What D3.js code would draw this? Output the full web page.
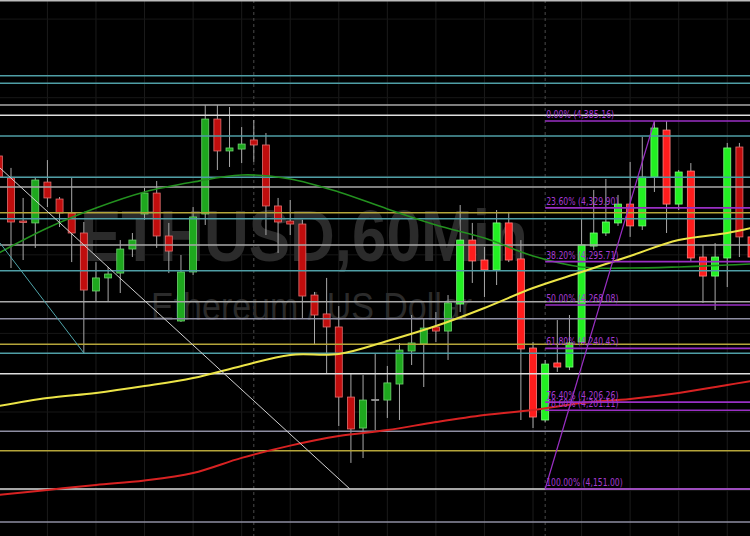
<!DOCTYPE html>
<html><head><meta charset="utf-8">
<script src="https://cdn.jsdelivr.net/npm/d3@7"></script>
<style>html,body{margin:0;padding:0;background:#000;overflow:hidden}</style>
</head><body><svg id="c" width="750" height="536"></svg>
<script>
// ---- data (ETHUSD 60-minute candles) ----
const candleIdx = d3.range(-1, 62);
const opens  = [4362.9,4348.9,4321.5,4320.3,4346.3,4335.5,4326.6,4313.9,4277.0,4285.3,4288.4,4303.7,4326.0,4339.3,4312.0,4257.9,4289.1,4326.0,4386.4,4366.1,4367.3,4373.1,4369.9,4331.1,4321.5,4319.6,4274.4,4262.4,4254.1,4209.5,4189.8,4207.95,4207.6,4217.8,4238.8,4243.3,4254.1,4251.5,4268.7,4309.4,4296.7,4290.4,4320.3,4297.4,4240.7,4194.9,4231.2,4228.6,4244.5,4305.6,4313.9,4320.3,4332.3,4318.4,4349.5,4379.4,4332.3,4353.3,4298.6,4286.5,4298.0,4368.6,4311.4];
const highs  = [4366.7,4355.3,4336.2,4349.5,4360.3,4336.8,4349.5,4320.9,4295.4,4292.3,4309.4,4313.9,4342.5,4347.0,4320.3,4299.9,4330.4,4395.3,4395.3,4394.1,4381.3,4385.8,4377.5,4336.2,4334.9,4322.2,4276.4,4285.3,4267.4,4224.8,4223.5,4236.9,4229.3,4243.9,4261.7,4259.8,4263.6,4274.4,4331.7,4320.3,4305.0,4328.5,4327.3,4309.4,4244.5,4233.1,4258.5,4261.7,4323.4,4341.3,4348.3,4338.1,4359.1,4375.0,4385.16,4385.16,4354.0,4358.4,4306.3,4307.5,4371.2,4371.2,4315.8];
const lows   = [4347.6,4291.6,4296.7,4304.4,4330.4,4317.7,4295.4,4237.5,4270.6,4270.0,4275.7,4298.6,4322.2,4304.4,4288.4,4257.3,4287.2,4319.0,4354.0,4355.9,4358.4,4359.1,4312.6,4301.2,4312.6,4259.8,4242.6,4224.8,4191.1,4167.6,4170.7,4188.5,4196.2,4194.9,4229.9,4215.9,4244.5,4233.1,4263.6,4282.1,4273.2,4280.8,4295.4,4194.9,4189.8,4193.6,4225.5,4226.7,4242.6,4303.1,4312.0,4318.4,4311.4,4315.8,4340.0,4313.9,4328.5,4295.4,4269.4,4264.9,4279.5,4298.6,4295.4];
const closes = [4349.5,4320.9,4320.6,4347.6,4336.2,4326.6,4313.9,4277.6,4285.3,4287.8,4303.7,4309.4,4339.3,4312.0,4302.4,4289.1,4324.1,4386.4,4366.1,4368.0,4370.5,4369.9,4331.1,4320.9,4319.6,4273.8,4261.7,4254.1,4209.5,4189.2,4207.6,4207.95,4218.5,4239.4,4243.9,4253.4,4251.5,4269.4,4309.4,4296.1,4290.4,4320.3,4296.7,4240.1,4196.8,4230.5,4228.6,4243.9,4306.3,4313.9,4320.9,4332.3,4318.4,4349.5,4380.7,4332.3,4352.7,4298.0,4286.5,4298.6,4368.0,4311.4,4298.6];

// moving averages, read at every 4th candle
const maIdx    = [-1,3,7,11,15,19,23,27,31,35,39,43,47,51,55,59,61];
const maGreen  = [4301.2,4317.1,4329.8,4340.0,4346.3,4350.8,4348.3,4340.0,4329.2,4319.0,4310.7,4299.3,4292.3,4291.6,4292.3,4293.5,4294.2];
const maYellow = [4203.8,4208.9,4212.1,4216.5,4221.6,4229.3,4236.3,4236.9,4245.2,4254.7,4266.2,4278.9,4289.1,4299.3,4309.4,4313.9,4317.1];
const maRed    = [4147.2,4150.4,4153.6,4156.4,4161.2,4170.8,4178.6,4184.7,4188.5,4193.6,4198.1,4201.3,4205.7,4208.3,4212.1,4217.2,4219.7];

// horizontal support / resistance levels
const tealLevels   = [4413.98,4409.15,4375.62,4349.34,4322.99,4289.91,4237.35];
const grayLevels   = [4395.34,4343.16,4306.26,4270.18];
const slateLevels  = [4259.36,4187.72,4130.01];
const whiteLevels  = [4388.79,4224.37,4151.00];
const yellowLevels = [4326.81,4243.08,4175.37];

// Fibonacci retracement
const fibPrices = [4385.16,4329.90,4295.71,4268.08,4240.45,4206.26,4201.11,4151.00];
const fibLabels = ["0.00% (4,385.16)","23.60% (4,329.90)","38.20% (4,295.71)","50.00% (4,268.08)","61.80% (4,240.45)","76.40% (4,206.26)","78.60% (4,201.11)","100.00% (4,151.00)"];
const fibStartIdx = 44, fibHighIdx = 53;

// trend lines [idx1, price1, idx2, price2]
const whiteTrend = [-0.906, 4355.25, 27.92, 4151.0];
const tealTrend  = [-0.906, 4307.53, 6, 4237.55];

const daySeparators = [20, 44];
const gridIdx = d3.range(3, 62, 4);
const gridPrices = d3.range(4150, 4451, 50);

// ---- drawing ----
const W = 750, H = 536;
const svg = d3.select("#c");
const x = d3.scaleLinear().domain([0, 60]).range([11, 739.4]);
const y = d3.scaleLinear().domain([4151.0, 4385.16]).range([489, 121]);

svg.append("rect").attr("width", W).attr("height", H).attr("fill", "#000");

// grid
svg.append("g").selectAll("line").data(gridIdx).join("line")
  .attr("x1", d => x(d)).attr("x2", d => x(d)).attr("y1", 0).attr("y2", H)
  .attr("stroke", "#1b1b1b").attr("stroke-width", 1);
svg.append("g").selectAll("line").data(gridPrices).join("line")
  .attr("x1", 0).attr("x2", W).attr("y1", d => y(d)).attr("y2", d => y(d))
  .attr("stroke", "#171717").attr("stroke-width", 1);
svg.append("g").selectAll("line").data(daySeparators).join("line")
  .attr("x1", d => x(d)).attr("x2", d => x(d)).attr("y1", 0).attr("y2", H)
  .attr("stroke", "#4a4a4a").attr("stroke-width", 1).attr("stroke-dasharray", "3,3");

// watermark (horizontally condensed like the source screenshot)
svg.append("text").text("ETHUSD,60Min")
  .attr("transform", "translate(80,261) scale(1,1.18)")
  .attr("font-family", "Liberation Sans, Arial, sans-serif")
  .attr("font-weight", "bold").attr("font-size", 62).attr("fill", "#2b2b2b");
svg.append("text").text("Ethereum / US Dollar")
  .attr("transform", "translate(151,320) scale(1,1.12)")
  .attr("font-family", "Liberation Sans, Arial, sans-serif")
  .attr("font-size", 34).attr("fill", "#2b2b2b");

// candles
const candles = candleIdx.map((i, k) => ({i, o: opens[k], h: highs[k], l: lows[k], c: closes[k]}));
const bw = 7;
function colors(d) {
  if (d.o === d.c) return {fill: "#9a9a9a", stroke: "#9a9a9a"};
  const up = d.c > d.o;
  const bright = d.i >= 37 && d.i !== 60;
  if (up) return bright ? {fill: "#22f022", stroke: "#7dff7d"} : {fill: "#1ea81e", stroke: "#6fd36f"};
  return bright ? {fill: "#ff1c1c", stroke: "#ff8080"} : {fill: "#c00d0d", stroke: "#e07070"};
}
const cg = svg.append("g");
cg.selectAll("line").data(candles).join("line")
  .attr("x1", d => x(d.i)).attr("x2", d => x(d.i))
  .attr("y1", d => y(d.h)).attr("y2", d => y(d.l))
  .attr("stroke", "#a8a8a8").attr("stroke-width", 1);
cg.selectAll("rect").data(candles).join("rect")
  .attr("x", d => x(d.i) - bw / 2)
  .attr("y", d => y(Math.max(d.o, d.c)))
  .attr("width", bw)
  .attr("height", d => Math.max(1, Math.abs(y(d.o) - y(d.c))))
  .attr("fill", d => colors(d).fill).attr("stroke", d => colors(d).stroke).attr("stroke-width", 0.8);

// horizontal levels
function levels(arr, color, w) {
  svg.append("g").selectAll("line").data(arr).join("line")
    .attr("x1", 0).attr("x2", W).attr("y1", d => y(d)).attr("y2", d => y(d))
    .attr("stroke", color).attr("stroke-width", w);
}
levels(tealLevels, "#4f9ea6", 1.6);
levels(grayLevels, "#a9a9a9", 1.6);
levels(slateLevels, "#8e8ea2", 1.6);
levels(whiteLevels, "#dedede", 1.6);
levels(yellowLevels, "#b5a53a", 1.6);

// top frame
svg.append("line").attr("x1", 0).attr("x2", W).attr("y1", 0.75).attr("y2", 0.75)
  .attr("stroke", "#bdbdbd").attr("stroke-width", 1.5);

// moving averages
function ma(vals, color, w) {
  const line = d3.line().x((d, k) => x(maIdx[k])).y(d => y(d)).curve(d3.curveCatmullRom.alpha(0.5));
  svg.append("path").datum(vals).attr("d", line).attr("fill", "none")
    .attr("stroke", color).attr("stroke-width", w);
}
ma(maGreen, "#23911f", 1.6);
ma(maYellow, "#ece447", 2);
ma(maRed, "#d82222", 2);

// trend lines
function trend(t, color) {
  svg.append("line").attr("x1", x(t[0])).attr("y1", y(t[1])).attr("x2", x(t[2])).attr("y2", y(t[3]))
    .attr("stroke", color).attr("stroke-width", 1);
}
trend(whiteTrend, "#d0d0d0");
trend(tealTrend, "#4fa4aa");

// fibonacci
const fibColor = "#9a2fc4";
const fg = svg.append("g");
fg.selectAll("line").data(fibPrices).join("line")
  .attr("x1", x(fibStartIdx)).attr("x2", W).attr("y1", d => y(d)).attr("y2", d => y(d))
  .attr("stroke", fibColor).attr("stroke-width", 1.6);
fg.append("line").attr("x1", x(fibStartIdx)).attr("y1", y(fibPrices[7]))
  .attr("x2", x(fibHighIdx)).attr("y2", y(fibPrices[0]))
  .attr("stroke", fibColor).attr("stroke-width", 1.2);
fg.selectAll("text").data(fibLabels).join("text")
  .text(d => d)
  .attr("x", x(fibStartIdx) + 1).attr("y", (d, k) => y(fibPrices[k]) - 3)
  .attr("font-family", "Liberation Sans Narrow, DejaVu Sans Condensed, Arial, sans-serif")
  .attr("font-size", 11).attr("fill", "#a43ad0")
  .attr("textLength", d => d.length * 4.25).attr("lengthAdjust", "spacingAndGlyphs");
</script>
</body></html>
